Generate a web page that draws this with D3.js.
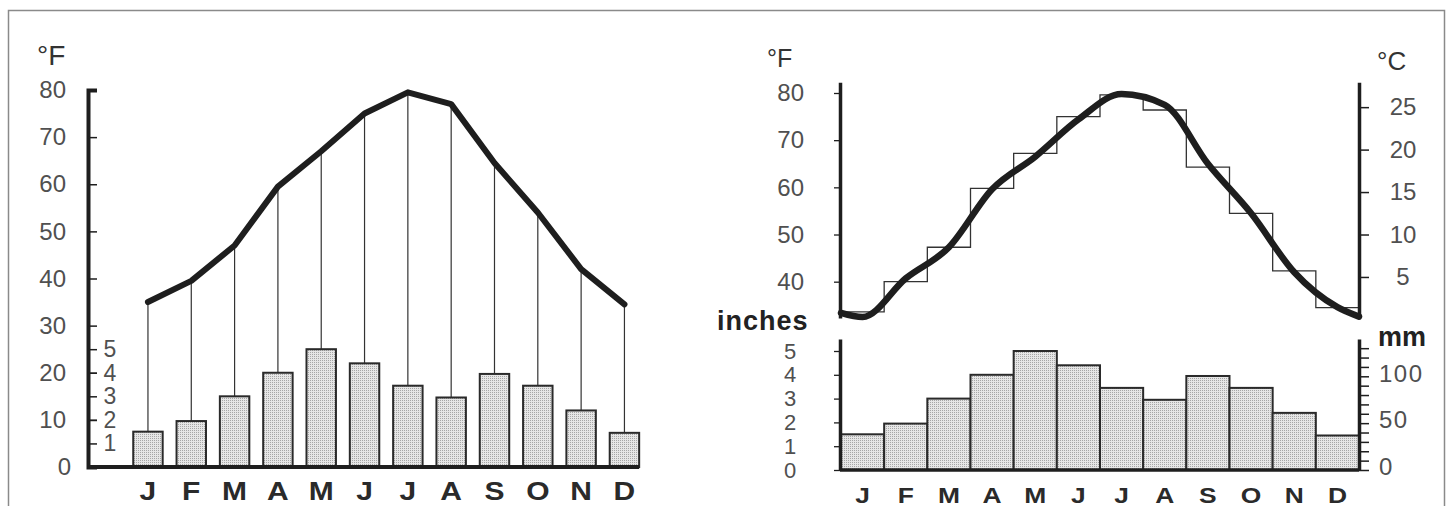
<!DOCTYPE html>
<html>
<head>
<meta charset="utf-8">
<script src="https://cdn.jsdelivr.net/npm/d3@7"></script>
<style>
body { margin: 0; background: #fff; }
svg { display: block; }
text { font-family: "Liberation Sans", Arial, sans-serif; }
</style>
</head>
<body>
<div id="vis"></div>
<script>
// data
var months = ['J', 'F', 'M', 'A', 'M', 'J', 'J', 'A', 'S', 'O', 'N', 'D'];
var monthKeys = d3.range(12);
var tempLeft = [35, 39.5, 47, 59.5, 67, 75, 79.5, 77, 64.5, 54, 42, 34.5];      // °F, left chart line
var tempSteps = [33.6, 40, 47.3, 59.8, 67.2, 75, 79.6, 76.4, 64.3, 54.5, 42.3, 34.5]; // °F, monthly means (steps)
var tempCurve = [32.5, 40.7, 47.3, 59.6, 66.5, 74.4, 79.8, 77.5, 65, 54.5, 42, 34.6]; // °F, smoothed curve
var curveEnds = [33.4, 32.6];                                                     // curve value at 1 Jan / 31 Dec
var precipIn = [1.5, 1.95, 3, 4, 5, 4.4, 3.45, 2.95, 3.95, 3.45, 2.4, 1.45];    // inches

var ticksF = [0, 10, 20, 30, 40, 50, 60, 70, 80];
var ticksIn = [1, 2, 3, 4, 5];
var ticksFRight = [40, 50, 60, 70, 80];
var ticksC = [5, 10, 15, 20, 25];
var ticksInRight = [0, 1, 2, 3, 4, 5];
var ticksMm = d3.range(0, 131, 10);
var labelsMm = [0, 50, 100];

var W = 1450, H = 506;
var ink = '#1e1e1e';
var numColor = '#505050';

var svg = d3.select('#vis').append('svg')
    .attr('width', W)
    .attr('height', H);

var defs = svg.append('defs');
var pat = defs.append('pattern')
    .attr('id', 'stipple')
    .attr('width', 2).attr('height', 2)
    .attr('patternUnits', 'userSpaceOnUse');
pat.append('rect').attr('width', 2).attr('height', 2).attr('fill', '#e6e6e6');
pat.append('rect').attr('width', 1).attr('height', 1).attr('fill', '#a6a6a6');

// frame
svg.append('rect')
    .attr('x', 8.5).attr('y', 10.5)
    .attr('width', 1436).attr('height', 600)
    .attr('fill', 'none')
    .attr('stroke', '#8a8a8a')
    .attr('stroke-width', 1.5);

function styleNumbers(g, size)
{
    g.selectAll('text')
        .attr('fill', numColor)
        .style('font-size', size + 'px')
        .style('font-family', '"Liberation Sans", Arial, sans-serif');
}

function styleMonths(g, size)
{
    g.selectAll('text')
        .attr('fill', '#2a2a2a')
        .attr('transform', 'scale(1.2,1)')
        .style('font-size', size + 'px')
        .style('font-weight', 'bold')
        .style('font-family', '"Liberation Sans", Arial, sans-serif');
}

// ---------------- left chart ----------------
var x1 = d3.scaleBand().domain(monthKeys).range([126.3, 646.1]).paddingInner(0.32).paddingOuter(0.16);
var bw1 = x1.bandwidth();
var yF1 = d3.scaleLinear().domain([0, 80]).range([467, 90]);
var yIn1 = d3.scaleLinear().domain([0, 16]).range([467, 90]); // 1 inch = 5 °F

var left = svg.append('g');

// drop lines from temperature to bar top
left.selectAll('.drop')
    .data(monthKeys)
    .enter().append('line')
    .attr('class', 'drop')
    .attr('x1', function(i) { return x1(i) + bw1 / 2; })
    .attr('x2', function(i) { return x1(i) + bw1 / 2; })
    .attr('y1', function(i) { return yF1(tempLeft[i]); })
    .attr('y2', function(i) { return yIn1(precipIn[i]); })
    .attr('stroke', '#333')
    .attr('stroke-width', 1.2);

left.selectAll('.bar')
    .data(monthKeys)
    .enter().append('rect')
    .attr('class', 'bar')
    .attr('x', function(i) { return x1(i); })
    .attr('y', function(i) { return yIn1(precipIn[i]); })
    .attr('width', bw1)
    .attr('height', function(i) { return yIn1(0) - yIn1(precipIn[i]); })
    .attr('fill', 'url(#stipple)')
    .attr('stroke', '#2a2a2a')
    .attr('stroke-width', 2);

left.append('path')
    .datum(monthKeys)
    .attr('fill', 'none')
    .attr('stroke', ink)
    .attr('stroke-width', 6)
    .attr('stroke-linejoin', 'round')
    .attr('stroke-linecap', 'round')
    .attr('d', d3.line()
        .x(function(i) { return x1(i) + bw1 / 2; })
        .y(function(i) { return yF1(tempLeft[i]); }));

// temperature axis: ticks to the right, labels on the left
var axF1 = left.append('g')
    .attr('transform', 'translate(88,0)')
    .call(d3.axisLeft(yF1).tickValues(ticksF).tickSize(-9).tickPadding(22));
axF1.select('.domain').attr('stroke', ink).attr('stroke-width', 4);
axF1.selectAll('.tick line').attr('stroke', ink).attr('stroke-width', 1.5);
styleNumbers(axF1, 24);
axF1.selectAll('.tick text').filter(function(d) { return d === 0; }).attr('x', -17);

// inch ticks on the same axis
var axIn1 = left.append('g')
    .attr('transform', 'translate(88,0)')
    .call(d3.axisLeft(yIn1).tickValues(ticksIn).tickSize(-9).tickFormat(''));
axIn1.select('.domain').remove();
axIn1.selectAll('.tick line').attr('stroke', ink).attr('stroke-width', 1.5);

left.selectAll('.inlab')
    .data(ticksIn)
    .enter().append('text')
    .attr('class', 'inlab')
    .attr('x', 110)
    .attr('y', function(d) { return yIn1(d); })
    .attr('dy', '0.35em')
    .attr('text-anchor', 'middle')
    .attr('fill', numColor)
    .style('font-size', '23px')
    .text(function(d) { return d; });

// baseline
left.append('line')
    .attr('x1', 88).attr('x2', x1(11) + bw1)
    .attr('y1', yF1(0)).attr('y2', yF1(0))
    .attr('stroke', ink)
    .attr('stroke-width', 4);

var axM1 = left.append('g')
    .attr('transform', 'translate(0,' + yF1(0) + ')')
    .call(d3.axisBottom(x1).tickSize(0).tickPadding(15).tickFormat(function(i) { return months[i]; }));
axM1.select('.domain').remove();
styleMonths(axM1, 25);

left.append('text')
    .attr('x', 37).attr('y', 65)
    .attr('fill', '#333')
    .style('font-size', '28px')
    .text('°F');

// ---------------- right chart ----------------
var x2 = d3.scaleBand().domain(monthKeys).range([841, 1359]).padding(0);
var bw2 = x2.bandwidth();
var yF2 = d3.scaleLinear().domain([32.3, 82.3]).range([318, 82.15]);
var yC2 = d3.scaleLinear().domain([(32.3 - 32) * 5 / 9, (82.3 - 32) * 5 / 9]).range([318, 82.15]);
var yIn2 = d3.scaleLinear().domain([0, 5.5]).range([470, 339.1]);
var yMm2 = d3.scaleLinear().domain([0, 5.5 * 25.4]).range([470, 339.1]);

var right = svg.append('g');

// monthly mean steps
var stepPts = monthKeys.map(function(i) { return [x2(i), tempSteps[i]]; });
stepPts.push([x2.range()[1], tempSteps[11]]);
right.append('path')
    .datum(stepPts)
    .attr('fill', 'none')
    .attr('stroke', '#333')
    .attr('stroke-width', 1.3)
    .attr('d', d3.line()
        .curve(d3.curveStepAfter)
        .x(function(d) { return d[0]; })
        .y(function(d) { return yF2(d[1]); }));

// smooth curve
var curvePts = [[x2.range()[0], curveEnds[0]]]
    .concat(monthKeys.map(function(i) { return [x2(i) + bw2 / 2, tempCurve[i]]; }))
    .concat([[x2.range()[1], curveEnds[1]]]);
right.append('path')
    .datum(curvePts)
    .attr('fill', 'none')
    .attr('stroke', ink)
    .attr('stroke-width', 6.5)
    .attr('stroke-linecap', 'round')
    .attr('d', d3.line()
        .curve(d3.curveMonotoneX)
        .x(function(d) { return d[0]; })
        .y(function(d) { return yF2(d[1]); }));

var axF2 = right.append('g')
    .attr('transform', 'translate(840,0)')
    .call(d3.axisLeft(yF2).tickValues(ticksFRight).tickSize(6).tickSizeOuter(0).tickPadding(30));
axF2.select('.domain').attr('stroke', ink).attr('stroke-width', 3.5);
axF2.selectAll('.tick line').attr('stroke', ink).attr('stroke-width', 1.3);
axF2.selectAll('.tick text').attr('x', -36);
styleNumbers(axF2, 24);

var axC2 = right.append('g')
    .attr('transform', 'translate(1359,0)')
    .call(d3.axisRight(yC2).tickValues(ticksC).tickSize(10).tickSizeOuter(0));
axC2.select('.domain').attr('stroke', ink).attr('stroke-width', 3.5);
axC2.selectAll('.tick line').attr('stroke', ink).attr('stroke-width', 1.5);
axC2.selectAll('.tick text').attr('x', 44).attr('text-anchor', 'middle');
styleNumbers(axC2, 24);

right.append('text')
    .attr('x', 767).attr('y', 67)
    .attr('fill', '#333')
    .style('font-size', '25px')
    .text('°F');

right.append('text')
    .attr('x', 1377).attr('y', 70)
    .attr('fill', '#333')
    .style('font-size', '26px')
    .text('°C');

// precipitation bars
right.selectAll('.bar2')
    .data(monthKeys)
    .enter().append('rect')
    .attr('class', 'bar2')
    .attr('x', function(i) { return x2(i); })
    .attr('y', function(i) { return yIn2(precipIn[i]); })
    .attr('width', bw2)
    .attr('height', function(i) { return yIn2(0) - yIn2(precipIn[i]); })
    .attr('fill', 'url(#stipple)')
    .attr('stroke', '#2a2a2a')
    .attr('stroke-width', 2);

var axIn2 = right.append('g')
    .attr('transform', 'translate(840,0)')
    .call(d3.axisLeft(yIn2).tickValues(ticksInRight).tickSize(6).tickSizeOuter(0).tickFormat(d3.format('d')));
axIn2.select('.domain').attr('stroke', ink).attr('stroke-width', 3.5);
axIn2.selectAll('.tick line').attr('stroke', ink).attr('stroke-width', 1.3);
axIn2.selectAll('.tick text').attr('x', -50).attr('text-anchor', 'middle');
styleNumbers(axIn2, 22);

var axMm2 = right.append('g')
    .attr('transform', 'translate(1359,0)')
    .call(d3.axisRight(yMm2).tickValues(ticksMm).tickSize(10).tickSizeOuter(0)
        .tickFormat(function(d) { return labelsMm.indexOf(d) >= 0 ? d : ''; }));
axMm2.select('.domain').attr('stroke', ink).attr('stroke-width', 3.5);
axMm2.selectAll('.tick line').attr('stroke', ink).attr('stroke-width', 1.5);
axMm2.selectAll('.tick text').attr('x', 20).attr('dy', '0.2em').attr('letter-spacing', 1.5);
styleNumbers(axMm2, 24);

right.append('line')
    .attr('x1', 840).attr('x2', 1359)
    .attr('y1', yIn2(0)).attr('y2', yIn2(0))
    .attr('stroke', ink)
    .attr('stroke-width', 3.5);

var axM2 = right.append('g')
    .attr('transform', 'translate(0,' + yIn2(0) + ')')
    .call(d3.axisBottom(x2).tickSize(0).tickPadding(17).tickFormat(function(i) { return months[i]; }));
axM2.select('.domain').remove();
styleMonths(axM2, 22);

right.append('text')
    .attr('x', 717).attr('y', 330)
    .attr('fill', '#222')
    .attr('letter-spacing', 1)
    .style('font-size', '27px')
    .style('font-weight', 'bold')
    .text('inches');

right.append('text')
    .attr('x', 1378).attr('y', 346)
    .attr('fill', '#222')
    .style('font-size', '27px')
    .style('font-weight', 'bold')
    .text('mm');
</script>
</body>
</html>
